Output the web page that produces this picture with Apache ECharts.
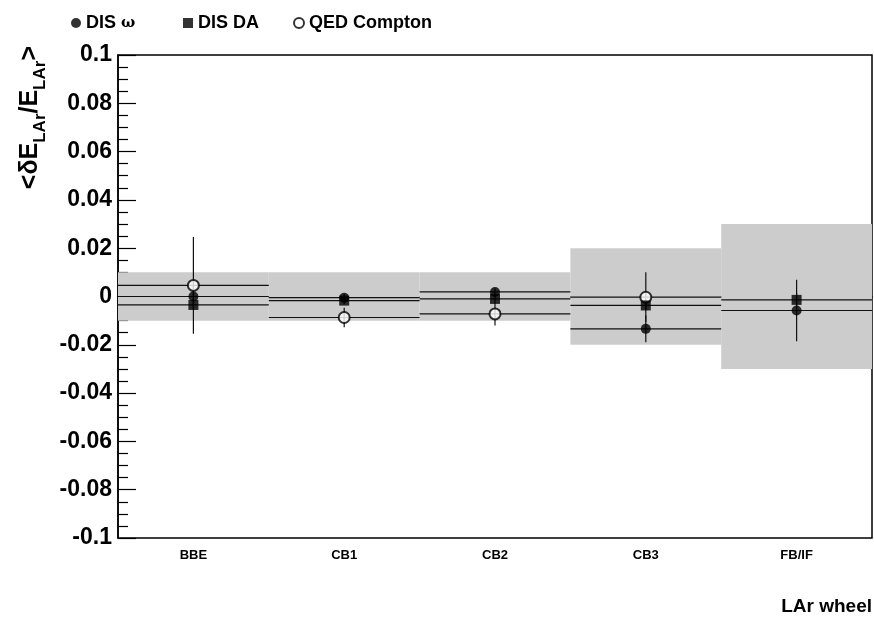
<!DOCTYPE html>
<html><head><meta charset="utf-8">
<script src="https://cdn.jsdelivr.net/npm/echarts@6/dist/echarts.min.js"></script>
<style>html,body{margin:0;padding:0;background:#fff}#c{width:874px;height:622px}</style>
</head><body><div id="c"></div>
<script>
const categories = ['BBE', 'CB1', 'CB2', 'CB3', 'FB/IF'];
const systBand = [0.01, 0.01, 0.01, 0.02, 0.03];
const disOmega = [0.0, -0.0005, 0.0019, -0.0134, -0.0058];
const disOmegaErr = [0.004, 0.0015, 0.0015, 0.0055, 0.0127];
const disDA = [-0.0035, -0.0017, -0.001, -0.0037, -0.0014];
const disDAErr = [0.002, 0.0015, 0.0015, 0.002, 0.003];
const qed = [0.0046, -0.0087, -0.0072, -0.0003, null];
const qedErr = [0.020, 0.004, 0.0048, 0.0103, null];
const seriesNames = ['DIS ω', 'DIS DA', 'QED Compton'];

const FONT = '"Liberation Sans", Arial, Helvetica, sans-serif';

function rows(vals, errs) {
  const out = [];
  vals.forEach((v, i) => { if (v !== null) out.push([i, v, errs[i]]); });
  return out;
}

function bandItem(params, api) {
  const i = api.value(0), e = api.value(1);
  const p1 = api.coord([i, e]);
  const p2 = api.coord([i, -e]);
  const w = api.size([1, 0])[0];
  return { type: 'rect', shape: { x: p1[0] - w / 2, y: p1[1], width: w, height: p2[1] - p1[1] },
           style: { fill: '#cccccc' } };
}

function lineItem(params, api) {
  const i = api.value(0), v = api.value(1), e = api.value(2);
  const c = api.coord([i, v]);
  const top = api.coord([i, v + e]);
  const bot = api.coord([i, v - e]);
  const w = api.size([1, 0])[0];
  return { type: 'group', children: [
    { type: 'line', shape: { x1: c[0] - w / 2, y1: c[1], x2: c[0] + w / 2, y2: c[1] },
      style: { stroke: '#111', lineWidth: 1.2 } },
    { type: 'line', shape: { x1: c[0], y1: top[1], x2: c[0], y2: bot[1] },
      style: { stroke: '#111', lineWidth: 1.2 } }
  ] };
}

const legendText = {
  fontFamily: FONT, fontWeight: 'bold', fontSize: 18, color: '#000',
  rich: { b: { fontFamily: FONT, fontWeight: 'bold', fontSize: 18, color: '#000' },
          w: { fontFamily: '"DejaVu Serif", serif', fontSize: 15, color: '#000' } }
};
function mkLegend(name, left) {
  return { left: left, top: 14, itemWidth: 10, itemHeight: 10, itemGap: 0, data: [name],
    textStyle: legendText, padding: 0,
    formatter: n => n === 'DIS ω' ? '{b|DIS }{w|ω}' : '{b|' + n + '}' };
}

const chart = echarts.init(document.getElementById('c'), null, { renderer: 'canvas' });
chart.setOption({
  animation: false,
  backgroundColor: '#fff',
  grid: { left: 118, top: 55, width: 754, height: 483, show: true, borderColor: '#000', borderWidth: 1.5, backgroundColor: 'transparent' },
  legend: [mkLegend(seriesNames[0], 71), mkLegend(seriesNames[1], 183), mkLegend(seriesNames[2], 293)],
  xAxis: {
    type: 'category', data: categories, boundaryGap: true,
    axisLine: { lineStyle: { color: '#000', width: 1.5 } },
    axisTick: { inside: true, length: 14, lineStyle: { color: '#000', width: 1.2 } },
    axisLabel: { color: '#000', fontFamily: FONT, fontWeight: 'bold', fontSize: 13, margin: 11 },
    splitLine: { show: false }
  },
  yAxis: {
    type: 'value', min: -0.1, max: 0.1, interval: 0.02,
    axisLine: { show: true, lineStyle: { color: '#000', width: 1.5 } },
    axisTick: { show: true, inside: true, length: 18, lineStyle: { color: '#000', width: 1.2 } },
    minorTick: { show: true, splitNumber: 4, length: 10, lineStyle: { color: '#000', width: 1.2 } },
    splitLine: { show: false }, minorSplitLine: { show: false },
    axisLabel: { color: '#000', fontFamily: FONT, fontWeight: 'bold', fontSize: 23, margin: 6,
      formatter: v => String(parseFloat(v.toFixed(3))) }
  },
  graphic: [{
    type: 'text', left: 18, top: 46, rotation: Math.PI / 2,
    style: { text: '{a|<δE}{s|LAr}{a|/E}{s|LAr}{a|>}', fill: '#000',
      rich: { a: { fontFamily: FONT, fontWeight: 'bold', fontSize: 25, lineHeight: 36, fill: '#000' },
              s: { fontFamily: FONT, fontWeight: 'bold', fontSize: 17, verticalAlign: 'bottom', lineHeight: 36, fill: '#000' } } }
  }, {
    type: 'text', right: 2, top: 597,
    style: { text: 'LAr wheel', fill: '#000', font: 'bold 19px ' + FONT }
  }],
  series: [
    { type: 'custom', name: 'band', renderItem: bandItem, data: categories.map((c, i) => [i, systBand[i]]), z: 1, silent: true },
    { type: 'custom', name: 'lw', renderItem: lineItem, data: rows(disOmega, disOmegaErr), z: 2, silent: true },
    { type: 'custom', name: 'lda', renderItem: lineItem, data: rows(disDA, disDAErr), z: 2, silent: true },
    { type: 'custom', name: 'lq', renderItem: lineItem, data: rows(qed, qedErr), z: 2, silent: true },
    { type: 'scatter', name: seriesNames[0], symbol: 'circle', symbolSize: 10, itemStyle: { color: '#000' },
      data: rows(disOmega, disOmegaErr).map(r => [r[0], r[1]]), z: 3 },
    { type: 'scatter', name: seriesNames[2], symbol: 'emptyCircle', symbolSize: 11, itemStyle: { color: '#000', borderColor: '#000', borderWidth: 1.3 },
      data: rows(qed, qedErr).map(r => [r[0], r[1]]), z: 4 },
    { type: 'scatter', name: seriesNames[1], symbol: 'rect', symbolSize: 10, itemStyle: { color: '#000' },
      data: rows(disDA, disDAErr).map(r => [r[0], r[1]]), z: 5 }
  ]
});
</script></body></html>
